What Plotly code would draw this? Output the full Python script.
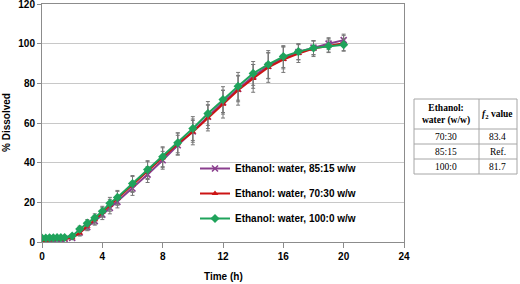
import plotly.graph_objects as go

# ---------------- data ----------------
time_h = [0, 0.25, 0.5, 0.75, 1, 1.25, 1.5, 2, 2.5, 3, 3.5, 4, 4.5, 5,
          6, 7, 8, 9, 10, 11, 12, 13, 14, 15, 16, 17, 18, 19, 20]

eth_85_15 = [1.0, 1.2, 1.3, 1.4, 1.5, 1.5, 1.6, 2.0, 4.8, 7.5, 10.5, 13.8, 17.2, 20.2,
             27.0, 34.0, 41.2, 48.8, 55.8, 63.2, 70.5, 77.2, 83.5, 88.8, 92.8, 95.8, 98.0, 100.0, 101.8]
sd_85_15 = [0.5, 0.5, 0.5, 0.5, 0.5, 0.5, 0.6, 0.8, 1.5, 1.8, 2.0, 2.5, 3.0, 3.0,
            3.5, 4.0, 4.5, 5.0, 5.5, 6.0, 6.0, 6.5, 6.0, 6.5, 5.5, 4.0, 3.5, 3.0, 3.0]

eth_70_30 = [0.8, 1.0, 1.1, 1.2, 1.3, 1.4, 1.5, 2.2, 4.5, 8.0, 11.2, 15.0, 18.5, 22.0,
             29.0, 36.0, 42.5, 49.5, 55.5, 62.5, 69.5, 76.5, 82.5, 88.0, 92.0, 95.0, 97.5, 99.0, 100.2]
sd_70_30 = [0.5, 0.5, 0.5, 0.5, 0.5, 0.5, 0.6, 0.8, 1.5, 1.8, 2.2, 2.5, 3.0, 3.5,
            4.0, 4.5, 5.0, 5.5, 6.5, 6.5, 7.0, 7.5, 7.0, 7.5, 6.5, 4.5, 4.0, 3.5, 4.0]

eth_100_0 = [2.0, 2.0, 2.1, 2.1, 2.2, 2.2, 2.3, 3.0, 6.5, 9.5, 12.2, 15.5, 19.5, 22.5,
             29.5, 36.5, 43.0, 50.0, 57.2, 64.8, 71.8, 78.5, 85.0, 89.5, 93.5, 96.0, 97.8, 98.8, 99.5]
sd_100_0 = [0.5, 0.5, 0.5, 0.5, 0.5, 0.5, 0.6, 0.8, 1.5, 1.8, 2.0, 2.5, 3.0, 3.5,
            4.0, 4.5, 5.0, 5.0, 6.0, 6.0, 6.5, 7.0, 6.0, 7.0, 5.5, 4.0, 3.5, 3.0, 3.0]

series_names = ["Ethanol: water, 85:15 w/w", "Ethanol: water, 70:30 w/w", "Ethanol: water, 100:0 w/w"]

x_ticks = [0, 4, 8, 12, 16, 20, 24]
y_ticks = [0, 20, 40, 60, 80, 100, 120]

table_header = ["Ethanol:<br>water (w/w)", "<i>f</i><sub>2</sub> value"]
table_ratio = ["70:30", "85:15", "100:0"]
table_f2 = ["83.4", "Ref.", "81.7"]

# ---------------- figure ----------------
W, H = 520, 284
ML, MR, MT, MB = 42, 116, 4, 42
PW, PH = W - ML - MR, H - MT - MB


def px(xp):
    return (xp - ML) / PW


def py(yp):
    return (H - MB - yp) / PH


FONT = "Liberation Sans, Arial, sans-serif"
SERIF = "Liberation Serif, Times New Roman, serif"

fig = go.Figure()

styles = [
    dict(color="#8a3f8e", symbol="x-thin", size=6, lw=1.6),
    dict(color="#cc1414", symbol="triangle-up", size=6, lw=0),
    dict(color="#1fa35b", symbol="diamond", size=7, lw=0),
]
vals = [eth_85_15, eth_70_30, eth_100_0]
sds = [sd_85_15, sd_70_30, sd_100_0]

for name, v, sd, st in zip(series_names, vals, sds, styles):
    fig.add_trace(go.Scatter(
        x=time_h, y=v, name=name, mode="lines+markers",
        legendgroup=name,
        line=dict(color=st["color"], width=2),
        marker=dict(symbol=st["symbol"], size=st["size"], color=st["color"],
                    line=dict(color=st["color"], width=st["lw"])),
        error_y=dict(type="data", array=sd, visible=True, color="#777777",
                     thickness=1, width=2),
    ))

shapes = []
# white box behind legend (hides gridlines)
shapes.append(dict(type="rect", xref="x", yref="y", x0=9.15, x1=23.7, y0=5, y1=48,
                   fillcolor="white", line=dict(width=0), layer="below"))

# table
tx0, tx1, tmid = 414, 517, 479
ty = [99, 129, 144, 159, 174]
tcol = "#a6a6a6"
for yv in ty:
    shapes.append(dict(type="line", xref="paper", yref="paper", x0=px(tx0), x1=px(tx1),
                       y0=py(yv), y1=py(yv), line=dict(color=tcol, width=1)))
for xv in (tx0, tmid, tx1):
    shapes.append(dict(type="line", xref="paper", yref="paper", x0=px(xv), x1=px(xv),
                       y0=py(ty[0]), y1=py(ty[-1]), line=dict(color=tcol, width=1)))

annotations = []
c1 = (tx0 + tmid) / 2
c2 = (tmid + tx1) / 2
annotations.append(dict(text="<b>" + table_header[0] + "</b>", x=px(c1), y=py((ty[0] + ty[1]) / 2),
                        xref="paper", yref="paper", showarrow=False, xanchor="center", yanchor="middle",
                        font=dict(family=SERIF, size=9.5, color="black")))
annotations.append(dict(text="<b>" + table_header[1] + "</b>", x=px(c2), y=py((ty[0] + ty[1]) / 2),
                        xref="paper", yref="paper", showarrow=False, xanchor="center", yanchor="middle",
                        font=dict(family=SERIF, size=9.5, color="black")))
for i, (r, f) in enumerate(zip(table_ratio, table_f2)):
    yc = (ty[i + 1] + ty[i + 2]) / 2
    annotations.append(dict(text=r, x=px(c1), y=py(yc), xref="paper", yref="paper", showarrow=False,
                            xanchor="center", yanchor="middle", font=dict(family=SERIF, size=9.5, color="black")))
    annotations.append(dict(text=f, x=px(c2), y=py(yc), xref="paper", yref="paper", showarrow=False,
                            xanchor="center", yanchor="middle", font=dict(family=SERIF, size=9.5, color="black")))

# axis titles
annotations.append(dict(text="<b>Time (h)</b>", x=0.5, y=py(276), xref="paper", yref="paper",
                        showarrow=False, xanchor="center", yanchor="middle",
                        font=dict(family=FONT, size=10, color="black")))
annotations.append(dict(text="<b>% Dissolved</b>", x=px(6), y=0.5, xref="paper", yref="paper",
                        showarrow=False, xanchor="center", yanchor="middle", textangle=-90,
                        font=dict(family=FONT, size=10, color="black")))

fig.update_layout(
    width=W, height=H,
    margin=dict(l=ML, r=MR, t=MT, b=MB, autoexpand=False),
    paper_bgcolor="white", plot_bgcolor="white",
    shapes=shapes, annotations=annotations,
    showlegend=True,
    legend=dict(x=px(195), y=py(154), xanchor="left", yanchor="top",
                bgcolor="rgba(0,0,0,0)", borderwidth=0,
                font=dict(family=FONT, size=10, color="black", weight="bold"),
                itemwidth=30, tracegroupgap=6, traceorder="grouped"),
    xaxis=dict(range=[0, 24], tickvals=x_ticks, ticktext=[str(v) for v in x_ticks],
               showgrid=False, zeroline=False, showline=True, linecolor="#8c8c8c", linewidth=1,
               mirror=True, ticks="outside", ticklen=5, tickcolor="#8c8c8c",
               ticklabeloverflow="allow",
               tickfont=dict(family=FONT, size=10, color="black", weight="bold")),
    yaxis=dict(range=[0, 120], tickvals=y_ticks, ticktext=[str(v) for v in y_ticks],
               showgrid=True, gridcolor="#c8c8c8", gridwidth=1, zeroline=False,
               showline=True, linecolor="#8c8c8c", linewidth=1, mirror=True,
               ticks="outside", ticklen=4, tickcolor="#8c8c8c",
               ticklabeloverflow="allow",
               tickfont=dict(family=FONT, size=10, color="black", weight="bold")),
)

fig.write_html("out.html", config={"displayModeBar": False},
               post_script="document.body.style.margin='0';document.body.style.overflow='hidden';")
